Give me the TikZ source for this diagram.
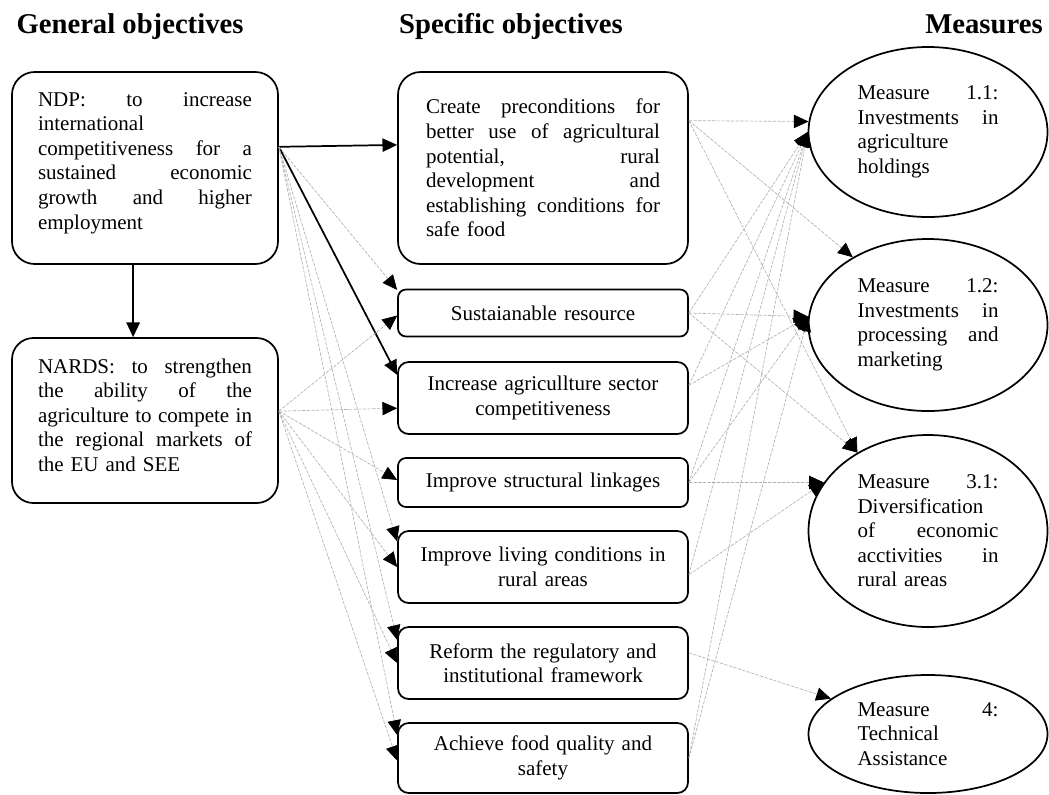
\documentclass[tikz,border=0pt]{standalone}
\usepackage{fontspec}
\setmainfont{Liberation Serif}
\usetikzlibrary{arrows.meta,shapes.geometric,calc}
\setlength{\parindent}{0pt}
\newcommand{\jline}[2]{{\spaceskip=0pt\xspaceskip=0pt\makebox[#1][s]{#2}}}
\newcommand{\lw}{160.5pt}
\newcommand{\sw}{175.5pt}
\newcommand{\mw}{105.75pt}
\begin{document}
\begin{tikzpicture}[x=0.75pt,y=-0.75pt,
  every node/.style={font=\fontsize{15.75}{18.4}\selectfont},
  title/.style={font=\fontsize{21.5}{25}\selectfont\bfseries, inner sep=0pt, anchor=base},
  lbox/.style={draw, line width=1.3pt, rounded corners=#1, inner sep=0pt, minimum width=199.5pt},
  rbox/.style={draw, line width=1.3pt, rounded corners=#1, inner sep=0pt, minimum width=217.5pt, text width=205pt, align=center},
  meas/.style={draw, ellipse, line width=1.3pt, inner sep=0pt, minimum width=179.25pt, text width=105.75pt, align=left},
  txt/.style={inner sep=0pt, align=left},
  strong/.style={line width=1.3pt, -{Triangle[length=11pt,width=10pt]}},
  faint/.style={draw=gray!60, line width=0.5pt, dash pattern=on 2.5pt off 1pt, -{Triangle[length=11pt,width=10pt,color=black]}}]
\useasboundingbox (0,0) rectangle (1049,794);

% titles
\node[title] (t1) at (130,33) {General objectives};
\node[title] (t2) at (511,33) {Specific objectives};
\node[title] (t3) at (984,33) {Measures};

% general objectives
\node[lbox=17pt, minimum height=144pt] (ndp) at (145,168) {};
\node[txt, text width=\lw] (ndpT) at (145,163) {\jline{\lw}{NDP: to increase}\\international\\\jline{\lw}{competitiveness for a}\\\jline{\lw}{sustained economic}\\\jline{\lw}{growth and higher}\\employment};
\node[lbox=16pt, minimum height=123.75pt] (nards) at (145,420.5) {};
\node[txt, text width=\lw] (nardsT) at (145,415) {\jline{\lw}{NARDS: to strengthen}\\\jline{\lw}{the ability of the}\\\jline{\lw}{agriculture to compete in}\\\jline{\lw}{the regional markets of}\\the EU and SEE};

% specific objectives
\node[rbox=17pt, minimum height=144pt, text width=\sw, align=left] (s1) at (543,168) {\jline{\sw}{Create preconditions for}\\\jline{\sw}{better use of agricultural}\\\jline{\sw}{potential, rural}\\\jline{\sw}{development and}\\\jline{\sw}{establishing conditions for}\\safe food};
\node[rbox=6pt, minimum height=35.25pt] (s2) at (543,313) {Sustaianable resource};
\node[rbox=8pt, minimum height=54pt] (s3) at (543,398) {Increase agricullture sector\\competitiveness};
\node[rbox=6pt, minimum height=36.75pt] (s4) at (543,482.5) {Improve structural linkages};
\node[rbox=8pt, minimum height=54pt] (s5) at (543,567) {Improve living conditions in\\rural areas};
\node[rbox=8pt, minimum height=54pt] (s6) at (543,663) {Reform the regulatory and\\institutional framework};
\node[rbox=8pt, minimum height=52.5pt] (s7) at (543,758) {Achieve food quality and\\safety};

% measures
\node[meas, minimum height=127.5pt] (m11) at (928,132) {\jline{\mw}{Measure 1.1:}\\\jline{\mw}{Investments in}\\agriculture\\holdings};
\node[meas, minimum height=129pt] (m12) at (928,325) {\jline{\mw}{Measure 1.2:}\\\jline{\mw}{Investments in}\\\jline{\mw}{processing and}\\marketing};
\node[meas, minimum height=144pt] (m31) at (928,531) {\jline{\mw}{Measure 3.1:}\\Diversification\\\jline{\mw}{of economic}\\\jline{\mw}{acctivities in}\\rural areas};
\node[meas, minimum height=88.5pt] (m4) at (928,734) {\jline{\mw}{Measure 4:}\\Technical\\Assistance};

% general -> specific
\draw[strong] (ndp.9.8) -- (s1.171);
\draw[strong] (ndp.9.8) -- (s3.171.8);
\draw[strong] (ndp.-97) -- (ndp.-97 |- nards.north);
\draw[faint] (ndp.9.8) -- (s2.171.4);
\draw[faint] (ndp.9.8) -- (s5.170.6);
\draw[faint] (ndp.9.8) -- (s6.171);
\draw[faint] (ndp.9.8) -- (s7.171.8);
\draw[faint] (nards.4.5) -- (s2.181);
\draw[faint] (nards.4.5) -- (s3.184.7);
\draw[faint] (nards.4.5) -- (s4.179);
\draw[faint] (nards.4.5) -- (s5.180);
\draw[faint] (nards.4.5) -- (s6.180.8);
\draw[faint] (nards.4.5) -- (s7.181.6);

% specific -> measures
\draw[faint] (s1.18.3) -- (m11.175.2);
\draw[faint] (s1.18.3) -- (m12.138.9);
\draw[faint] (s1.18.3) -- (m31.132.1);
\draw[faint] (s2.east) -- (m11.180.5);
\draw[faint] (s2.east) -- (m12.176.2);
\draw[faint] (s2.east) -- (m31.132.1);
\draw[faint] (s3.5.1) -- (m11.180.5);
\draw[faint] (s3.5.1) -- (m12.176.2);
\draw[faint] (s4.east) -- (m11.180.5);
\draw[faint] (s4.east) -- (m12.176.2);
\draw[faint] (s4.east) -- (m31.155.6);
\draw[faint] (s5.-3.9) -- (m11.180.5);
\draw[faint] (s5.-3.9) -- (m31.155.6);
\draw[faint] (s6.4.3) -- (m4.160.6);
\draw[faint] (s7.east) -- (m11.180.5);
\draw[faint] (s7.east) -- (m12.176.2);
\end{tikzpicture}
\end{document}
